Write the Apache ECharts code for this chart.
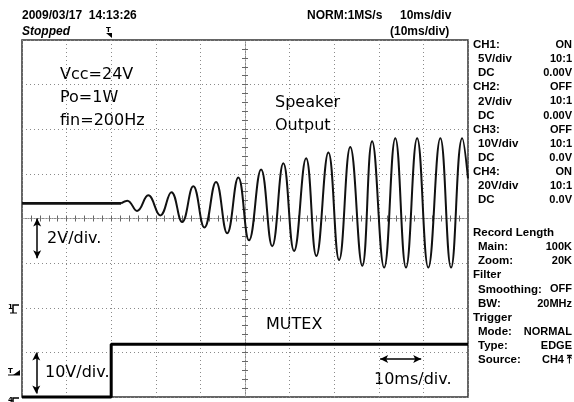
<!DOCTYPE html>
<html><head><meta charset="utf-8">
<script src="https://cdn.jsdelivr.net/npm/echarts@6/dist/echarts.min.js"></script>
<style>html,body{margin:0;padding:0;background:#fff}#c{width:574px;height:402px}</style>
</head><body><div id="c"></div>
<script>
// Time in ms (trigger at 0), amplitude in screen divisions (centre line = 0)
const flatTimes = [-20, 2.2];
const flatValues = [0.34, 0.34];
const waveTimes = [2.2, 3.6, 5.8, 8.3, 11.0, 13.5, 15.9, 18.4, 20.9, 23.5, 26.0, 28.5, 30.9, 33.6, 36.1, 38.6, 41.0, 43.7, 46.0, 48.7, 51.1, 53.6, 56.3, 58.5, 61.2, 63.7, 66.1, 68.6, 71.1, 73.8, 76.2, 78.7, 80.0];
const waveValues = [0.34, 0.40, 0.17, 0.52, 0.07, 0.59, -0.08, 0.72, -0.20, 0.82, -0.33, 0.92, -0.49, 1.10, -0.62, 1.24, -0.73, 1.35, -0.84, 1.48, -0.93, 1.60, -1.06, 1.73, -1.10, 1.80, -1.10, 1.80, -1.10, 1.80, -1.10, 1.80, 0.90];
const muteTimes = [-20, 0, 0, 80];
const muteValues = [-4.0, -4.0, -2.82, -2.82];

// annotation arrows: [t1, v1, t2, v2]
const arrows = [[-16.6, 0, -16.6, -0.89], [-16.8, -3.0, -16.8, -3.92], [60.3, -3.15, 69.5, -3.15]];

const headerTexts = [
  ['2009/03/17  14:13:26', 22, 16, 'bold 12px "Liberation Sans"'],
  ['Stopped', 22, 32, 'italic bold 12px "Liberation Sans"'],
  ['NORM:1MS/s', 307, 16, 'bold 12px "Liberation Sans"'],
  ['10ms/div', 400, 16, 'bold 12px "Liberation Sans"'],
  ['(10ms/div)', 390, 32, 'bold 12px "Liberation Sans"']
];
const panelLabels = ['CH1:', ' 5V/div', ' DC', 'CH2:', ' 2V/div', ' DC', 'CH3:', ' 10V/div', ' DC', 'CH4:', ' 20V/div', ' DC'];
const panelValues = ['ON', '10:1', '0.00V', 'OFF', '10:1', '0.00V', 'OFF', '10:1', '0.0V', 'ON', '10:1', '0.0V'];
const panel2Labels = ['Record Length', ' Main:', ' Zoom:', 'Filter', ' Smoothing:', ' BW:', 'Trigger', ' Mode:', ' Type:', ' Source:'];
const panel2Values = ['', '100K', '20K', '', 'OFF', '20MHz', '', 'NORMAL', 'EDGE', 'CH4 \u2912'];
const notes = [
  ['Vcc=24V', 60, 75], ['Po=1W', 60, 98], ['fin=200Hz', 60, 121],
  ['Speaker', 275, 103], ['Output', 275, 126],
  ['2V/div.', 47, 239], ['10V/div.', 45, 373], ['MUTEX', 266, 325], ['10ms/div.', 374, 380]
];

const zip = (a, b) => a.map((v, i) => [v, b[i]]);
const gridGray = '#8a8a8a';
const tickGray = '#666';

function mkAxis(extra) {
  return Object.assign({
    type: 'value',
    axisLabel: { show: false },
    axisLine: { show: true, onZero: true, lineStyle: { color: gridGray, width: 1, type: [1, 2] } },
    axisTick: { show: true, length: 3, lineStyle: { color: tickGray, width: 1 } },
    minorTick: { show: true, splitNumber: 5, length: 3, lineStyle: { color: tickGray, width: 1 } },
    splitLine: { show: false },
    minorSplitLine: { show: false }
  }, extra);
}
const splitStyle = { show: true, lineStyle: { color: gridGray, width: 1, type: [1, 3] } };

const graphics = [];
headerTexts.forEach(h => graphics.push({ type: 'text', style: { text: h[0], x: h[1], y: h[2], font: h[3], fill: '#000', verticalAlign: 'middle' } }));
function addPanel(labels, values, y0) {
  labels.forEach((l, i) => {
    const y = y0 + i * 14.1;
    const indent = l.startsWith(' ');
    graphics.push({ type: 'text', style: { text: l.trim(), x: indent ? 478 : 473, y: y, font: 'bold 11.5px "Liberation Sans"', fill: '#000', verticalAlign: 'middle' } });
    if (values[i]) graphics.push({ type: 'text', style: { text: values[i], x: 572, y: y, font: 'bold 11px "Liberation Sans"', fill: '#000', align: 'right', verticalAlign: 'middle' } });
  });
}
addPanel(panelLabels, panelValues, 45);
addPanel(panel2Labels, panel2Values, 233);
notes.forEach(n => graphics.push({ type: 'text', style: { text: n[0], x: n[1], y: n[2], font: '16px "DejaVu Sans"', fill: '#000', verticalAlign: 'middle' } }));
// trigger position marker
graphics.push({ type: 'text', style: { text: 'T', x: 106, y: 30, font: 'bold 7px "DejaVu Sans"', fill: '#000', verticalAlign: 'middle' } });
graphics.push({ type: 'polygon', shape: { points: [[106, 33], [112, 33], [112, 38]] }, style: { fill: '#000' } });
// channel markers on the left
graphics.push({ type: 'text', style: { text: '1', x: 8, y: 307, font: 'bold 7px "DejaVu Sans"', fill: '#000', verticalAlign: 'middle' } });
graphics.push({ type: 'polyline', shape: { points: [[19, 305], [13, 305], [13, 313]] }, style: { stroke: '#000', lineWidth: 1.5, fill: null } });
graphics.push({ type: 'polyline', shape: { points: [[10, 313], [17, 313]] }, style: { stroke: '#000', lineWidth: 1 } });
graphics.push({ type: 'text', style: { text: 'T', x: 8, y: 371, font: 'bold 7px "DejaVu Sans"', fill: '#000', verticalAlign: 'middle' } });
graphics.push({ type: 'polygon', shape: { points: [[13, 375], [20, 375], [20, 370]] }, style: { fill: '#000' } });
graphics.push({ type: 'polyline', shape: { points: [[8, 375], [20, 375]] }, style: { stroke: '#000', lineWidth: 1 } });
graphics.push({ type: 'text', style: { text: '4', x: 8, y: 400, font: 'bold 7px "DejaVu Sans"', fill: '#000', verticalAlign: 'middle' } });
graphics.push({ type: 'polyline', shape: { points: [[19, 398], [13, 398], [13, 402]] }, style: { stroke: '#000', lineWidth: 1.5, fill: null } });

const option = {
  animation: false,
  backgroundColor: '#fff',
  grid: { left: 22, top: 40, width: 446, height: 357, show: true, borderColor: '#333', borderWidth: 1.5 },
  xAxis: [
    mkAxis({ min: -20, max: 80, interval: 10, position: 'bottom', axisLine: { show: true, onZero: true, onZeroAxisIndex: 0, lineStyle: { color: gridGray, width: 1, type: [1, 2] } }, splitLine: splitStyle }),
    mkAxis({ min: -50, max: 50, interval: 10, position: 'top', axisLine: { show: true, onZero: true, onZeroAxisIndex: 0, lineStyle: { color: gridGray, width: 1, type: [1, 2] } } })
  ],
  yAxis: [
    mkAxis({ min: -4, max: 4, interval: 1, position: 'left', axisLine: { show: true, onZero: true, onZeroAxisIndex: 1, lineStyle: { color: gridGray, width: 1, type: [1, 2] } }, splitLine: splitStyle }),
    mkAxis({ min: -4, max: 4, interval: 1, position: 'right', axisLine: { show: true, onZero: true, onZeroAxisIndex: 1, lineStyle: { color: gridGray, width: 1, type: [1, 2] } } })
  ],
  series: [
    { type: 'line', data: zip(flatTimes, flatValues), showSymbol: false, lineStyle: { color: '#111', width: 2.6 }, silent: true },
    { type: 'line', data: zip(waveTimes, waveValues), showSymbol: false, smooth: 0.45, clip: true, lineStyle: { color: '#111', width: 2 }, silent: true },
    { type: 'line', data: zip(muteTimes, muteValues), showSymbol: false, clip: false, lineStyle: { color: '#000', width: 3 }, silent: true },
    { type: 'line', data: [], silent: true,
      markLine: { silent: true, symbol: ['arrow', 'arrow'], symbolSize: [6, 8], label: { show: false },
        lineStyle: { color: '#000', width: 1.5, type: 'solid' },
        data: arrows.map(a => [{ coord: [a[0], a[1]] }, { coord: [a[2], a[3]] }]) } }
  ],
  graphic: graphics
};
const chart = echarts.init(document.getElementById('c'), null, { renderer: 'canvas' });
chart.setOption(option);
</script></body></html>
